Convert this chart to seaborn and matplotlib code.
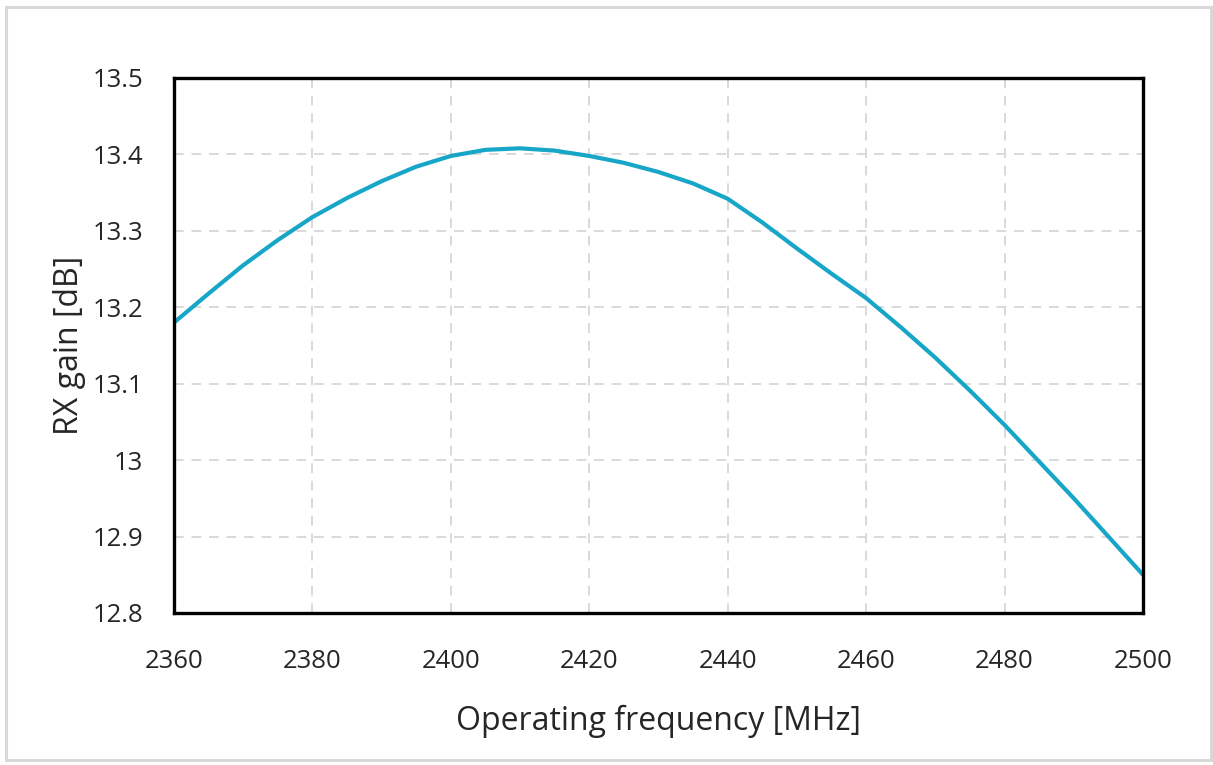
import numpy as np
import pandas as pd
import matplotlib
matplotlib.use("Agg")
import matplotlib.pyplot as plt
import seaborn as sns
from matplotlib.ticker import FuncFormatter, MultipleLocator
from matplotlib.patches import Rectangle

# DATA
freq_mhz = [2360, 2365, 2370, 2375, 2380, 2385, 2390, 2395, 2400, 2405,
            2410, 2415, 2420, 2425, 2430, 2435, 2440, 2445, 2450, 2455,
            2460, 2465, 2470, 2475, 2480, 2485, 2490, 2495, 2500]
rx_gain_db = [13.180, 13.218, 13.255, 13.288, 13.318, 13.343, 13.365, 13.384, 13.398, 13.406,
              13.408, 13.405, 13.398, 13.389, 13.377, 13.362, 13.342, 13.311, 13.277, 13.244,
              13.212, 13.174, 13.134, 13.091, 13.046, 12.998, 12.950, 12.900, 12.850]
x_ticks = [2360, 2380, 2400, 2420, 2440, 2460, 2480, 2500]

df = pd.DataFrame({"freq": freq_mhz, "gain": rx_gain_db})

sns.set_style("white")
plt.rcParams["font.family"] = ["Open Sans", "DejaVu Sans"]

fig = plt.figure(figsize=(12.13, 7.65), dpi=100)
ax = fig.add_axes([174 / 1213, 1 - 613 / 765, (1143 - 174) / 1213, (613 - 78) / 765])

# outer light border
fig.patches.append(Rectangle((6 / 1213, 5 / 765), 1205 / 1213, 753 / 765,
                             transform=fig.transFigure, fill=False,
                             edgecolor="#D9D9D9", linewidth=2.2))

sns.lineplot(data=df, x="freq", y="gain", ax=ax, color="#17A6C8", linewidth=3)

ax.set_xlim(2360, 2500)
ax.set_ylim(12.8, 13.5)
ax.set_xticks(x_ticks)
ax.yaxis.set_major_locator(MultipleLocator(0.1))
ax.yaxis.set_major_formatter(FuncFormatter(lambda v, p: f"{round(v, 1):g}"))

ax.grid(True, color="#D9D9D9", linestyle=(0, (5, 4)), linewidth=1.4)
for s in ax.spines.values():
    s.set_color("black")
    s.set_linewidth(2.4)
ax.tick_params(direction="in", length=5, width=2, color="black",
               labelsize=18.5, labelcolor="#262626")
ax.tick_params(axis="y", pad=22)
ax.tick_params(axis="x", pad=26)

ax.set_xlabel("Operating frequency [MHz]", fontsize=23, labelpad=22, color="#262626")
ax.set_ylabel("RX gain [dB]", fontsize=23, labelpad=5, color="#262626")

fig.savefig("out.png", dpi=100)
